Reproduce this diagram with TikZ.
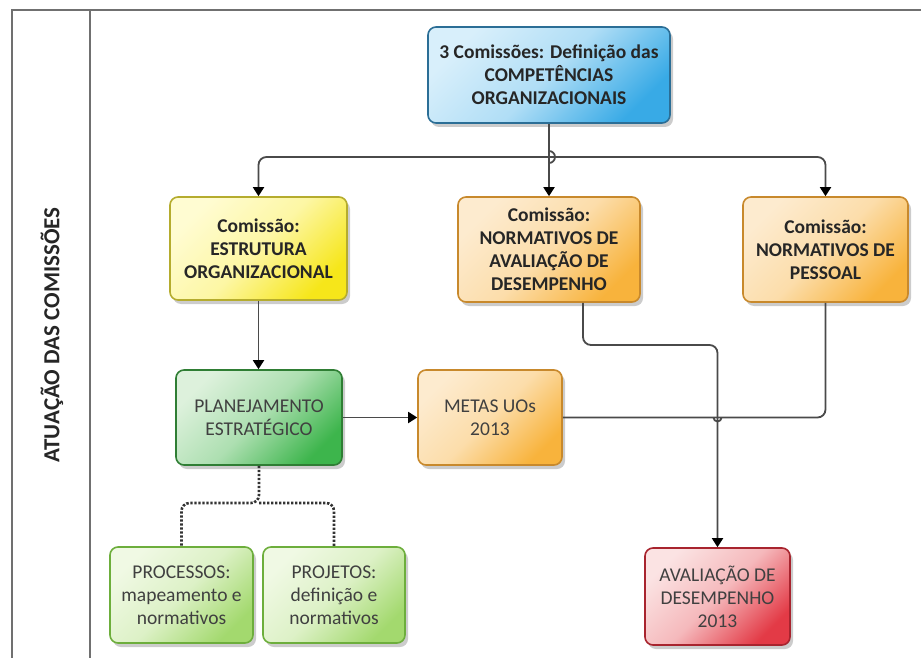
\documentclass[tikz,border=0pt]{standalone}
\usepackage{fontspec}
\setmainfont{Carlito}
\usetikzlibrary{arrows.meta,shadows,calc}
\definecolor{txt}{HTML}{262626}
\definecolor{txtn}{HTML}{404040}
\definecolor{lin}{HTML}{4A4A4A}
\definecolor{frm}{HTML}{707070}
\tikzset{
  box/.style={rounded corners=8pt, line width=1.6pt, align=center, inner sep=1pt,
    drop shadow={shadow xshift=3pt, shadow yshift=-4pt, opacity=0.2, fill=black},
    font=\fontsize{19.5}{23}\selectfont, text=txtn},
  boldbox/.style={box, font=\fontsize{19.5}{23}\selectfont\bfseries, text=txt},
  conn/.style={draw=lin, line width=1.8pt},
  arr/.style={conn, -{Triangle[length=9pt,width=11pt,color=black]}},
  dotline/.style={draw=black!80, line width=2.6pt, dash pattern=on 2.4pt off 1.6pt},
}
\definecolor{bD}{HTML}{2B6E96}\definecolor{bL}{HTML}{D8EFFB}\definecolor{bS}{HTML}{38AAE6}
\definecolor{yD}{HTML}{B5AC2E}\definecolor{yL}{HTML}{FFFCD2}\definecolor{yS}{HTML}{F6E61A}
\definecolor{oD}{HTML}{C8892C}\definecolor{oL}{HTML}{FDEBCF}\definecolor{oS}{HTML}{F8B33C}
\definecolor{gD}{HTML}{2F7E34}\definecolor{gL}{HTML}{DDF1DC}\definecolor{gS}{HTML}{3DB54C}
\definecolor{lD}{HTML}{6DAE3C}\definecolor{lL}{HTML}{F0F9E4}\definecolor{lS}{HTML}{A3D96E}
\definecolor{rD}{HTML}{A8242E}\definecolor{rL}{HTML}{FBE3E3}\definecolor{rS}{HTML}{E33A46}
\begin{document}
\begin{tikzpicture}[x=1pt,y=-1pt]
\useasboundingbox (0,0) rectangle (921,658);
% frame
\draw[frm, line width=1.6pt] (12,658) -- (12,10) -- (921,10);
\draw[frm, line width=1.6pt] (90,10) -- (90,658);
\node[rotate=90, font=\fontsize{23}{26}\selectfont\bfseries, text=txt] (lbl) at (52,335) {ATUAÇÃO DAS COMISSÕES};
% boxes
\node[boldbox, draw=bD, top color=bL, bottom color=bS, middle color=bL!75!bS, shading angle=45,
  minimum width=242pt, minimum height=96pt] (blue) at (549,75)
  {3 Comissões: Definição das\\COMPETÊNCIAS\\ORGANIZACIONAIS};
\node[boldbox, draw=yD, top color=yL, bottom color=yS, middle color=yL!75!yS, shading angle=45,
  minimum width=177pt, minimum height=103pt] (yel) at (258.5,248.5)
  {Comissão:\\ESTRUTURA\\ORGANIZACIONAL};
\node[boldbox, draw=oD, top color=oL, bottom color=oS, middle color=oL!75!oS, shading angle=45,
  minimum width=182pt, minimum height=105pt] (mid) at (549,249.5)
  {Comissão:\\NORMATIVOS DE\\AVALIAÇÃO DE\\DESEMPENHO};
\node[boldbox, draw=oD, top color=oL, bottom color=oS, middle color=oL!75!oS, shading angle=45,
  minimum width=165pt, minimum height=105pt] (rt) at (825.5,249.5)
  {Comissão:\\NORMATIVOS DE\\PESSOAL};
\node[box, draw=gD, top color=gL, bottom color=gS, middle color=gL!70!gS, shading angle=45,
  minimum width=166pt, minimum height=95pt] (plan) at (259,417.5)
  {PLANEJAMENTO\\ESTRATÉGICO};
\node[box, draw=oD, top color=oL, bottom color=oS, middle color=oL!75!oS, shading angle=45,
  minimum width=144pt, minimum height=95pt] (metas) at (490,417.5)
  {METAS UOs\\2013};
\node[box, draw=lD, top color=lL, bottom color=lS, middle color=lL!75!lS, shading angle=45,
  minimum width=143pt, minimum height=96pt] (proc) at (181.5,595)
  {PROCESSOS:\\mapeamento e\\normativos};
\node[box, draw=lD, top color=lL, bottom color=lS, middle color=lL!75!lS, shading angle=45,
  minimum width=142pt, minimum height=96pt] (proj) at (334,595)
  {PROJETOS:\\definição e\\normativos};
\node[box, draw=rD, top color=rL, bottom color=rS, middle color=rL!75!rS, shading angle=45,
  minimum width=145pt, minimum height=97pt] (red) at (717.5,596.5)
  {AVALIAÇÃO DE\\DESEMPENHO\\2013};
% connectors
\coordinate (hb) at (blue.south |- 0,157);
\draw[arr] (blue.south) -- (mid.north);
\draw[conn] ($(hb)+(0,-6)$) arc[start angle=90, end angle=-90, radius=6pt];
\draw[arr, rounded corners=8pt] (hb) -| (yel.north);
\draw[arr, rounded corners=8pt] (hb) -| (rt.north);
\draw[arr] (yel.south) -- (yel.south |- plan.north);
\draw[arr] (plan.east) -- (metas.west);
\coordinate (ms) at (583,0);
\coordinate (rc) at (red.north |- 0,345);
\draw[arr, rounded corners=8pt] (ms |- mid.south) |- (rc) -- (red.north);
\draw[conn, rounded corners=8pt] (rt.south) |- (metas.east);
\draw[conn] ($(red.north |- metas.east)+(-4,0)$) arc[start angle=180, end angle=360, radius=4pt];
% dotted
\coordinate (db) at (plan.south |- 0,503);
\draw[dotline, rounded corners=8pt] (plan.south) -- (db) -| (proc.north);
\draw[dotline, rounded corners=8pt] (db) -| (proj.north);
\end{tikzpicture}
\end{document}
